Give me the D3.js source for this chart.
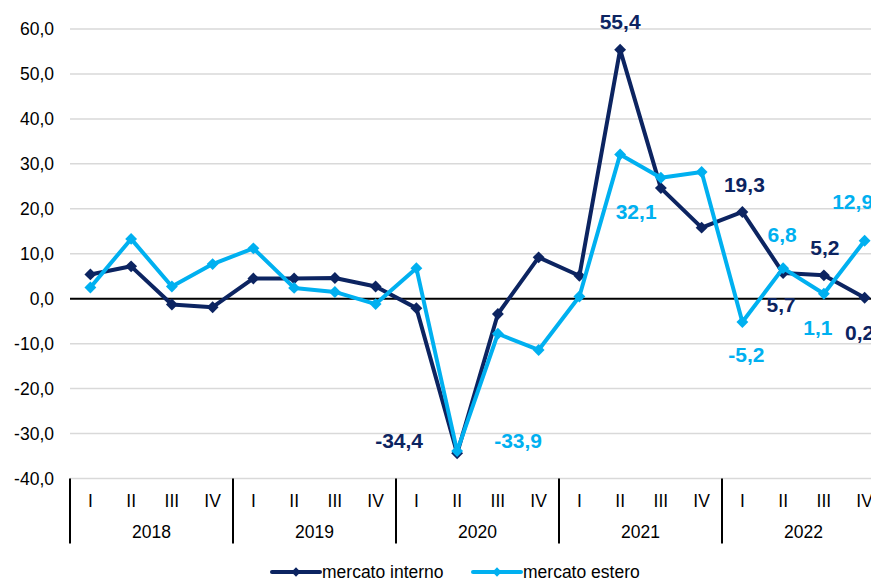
<!DOCTYPE html>
<html>
<head>
<meta charset="utf-8">
<script src="https://cdn.jsdelivr.net/npm/d3@7"></script>
<style>
  body { margin: 0; background: #fff; }
  svg { display: block; font-family: "Liberation Sans", Arial, sans-serif; }
</style>
</head>
<body>
<script>
// Data
let years = ['2018', '2019', '2020', '2021', '2022'];
let quarters = ['I', 'II', 'III', 'IV'];
let interno = [5.4, 7.2, -1.3, -1.9, 4.5, 4.5, 4.6, 2.7, -2.1, -34.4, -3.4, 9.2, 5.1, 55.4, 24.6, 15.8, 19.3, 5.7, 5.2, 0.2];
let estero = [2.5, 13.3, 2.7, 7.7, 11.2, 2.4, 1.5, -1.2, 6.8, -33.9, -7.8, -11.4, 0.5, 32.1, 26.9, 28.2, -5.2, 6.8, 1.1, 12.9];
let yTicks = [-40, -30, -20, -10, 0, 10, 20, 30, 40, 50, 60];

let dark = '#0c2461';
let light = '#00b0f0';

// label offsets from their point (pixels)
let labels = [
    {series: 'interno', i: 13, dx: 0, dy: -21},
    {series: 'interno', i: 9, dx: -58, dy: -5},
    {series: 'estero', i: 9, dx: 61, dy: -3},
    {series: 'estero', i: 13, dx: 16, dy: 65},
    {series: 'interno', i: 16, dx: 2, dy: -20},
    {series: 'estero', i: 17, dx: -1, dy: -26},
    {series: 'interno', i: 18, dx: 1, dy: -20},
    {series: 'estero', i: 19, dx: -12, dy: -32},
    {series: 'interno', i: 17, dx: -2, dy: 39},
    {series: 'estero', i: 18, dx: -6, dy: 41},
    {series: 'interno', i: 19, dx: -5, dy: 42},
    {series: 'estero', i: 16, dx: 4, dy: 40}
];

let categories = [];
years.forEach(y => quarters.forEach(q => categories.push(y + '-' + q)));

let seriesList = [
    {key: 'interno', name: 'mercato interno', values: interno, color: dark},
    {key: 'estero', name: 'mercato estero', values: estero, color: light}
];

let W = 871, H = 581;
let margin = {left: 70, right: 885, top: 29, bottom: 478.5};

let itLocale = d3.formatLocale({decimal: ',', thousands: '.', grouping: [3], currency: ['', '€'], minus: '-'});
let fmt = itLocale.format('.1f');

let svg = d3.select('body').append('svg')
    .attr('width', W)
    .attr('height', H);

let x = d3.scaleBand().domain(categories).range([margin.left, margin.right]);
let xYear = d3.scaleBand().domain(years).range([margin.left, margin.right]);
let y = d3.scaleLinear().domain([-40, 60]).range([margin.bottom, margin.top]);

// gridlines
svg.append('g')
    .selectAll('line')
    .data(yTicks.filter(d => d !== 0))
    .enter().append('line')
    .attr('x1', margin.left)
    .attr('x2', margin.right)
    .attr('y1', d => y(d))
    .attr('y2', d => y(d))
    .style('stroke', '#d9d9d9')
    .style('stroke-width', 1.5);

// y axis labels
let yAxis = svg.append('g')
    .attr('transform', `translate(${margin.left - 16},0)`)
    .call(d3.axisLeft(y).tickValues(yTicks).tickSize(0).tickPadding(0).tickFormat(fmt));
yAxis.select('.domain').remove();
yAxis.selectAll('text')
    .style('font-size', '17.5px')
    .style('font-family', '"Liberation Sans", Arial, sans-serif')
    .style('fill', '#000');

// zero line
svg.append('line')
    .attr('x1', margin.left)
    .attr('x2', margin.right)
    .attr('y1', y(0))
    .attr('y2', y(0))
    .style('stroke', '#000')
    .style('stroke-width', 2);

// x axis: quarters
let xAxis = svg.append('g')
    .attr('transform', `translate(0,${margin.bottom})`)
    .call(d3.axisBottom(x).tickSize(0).tickPadding(16).tickFormat(d => d.split('-')[1]));
xAxis.select('.domain').remove();
xAxis.selectAll('text')
    .style('font-size', '17.5px')
    .style('font-family', '"Liberation Sans", Arial, sans-serif')
    .style('fill', '#000');

// x axis: years
let yearAxis = svg.append('g')
    .attr('transform', `translate(0,${margin.bottom + 32})`)
    .call(d3.axisBottom(xYear).tickSize(0).tickPadding(15));
yearAxis.select('.domain').remove();
yearAxis.selectAll('text')
    .style('font-size', '17.5px')
    .style('font-family', '"Liberation Sans", Arial, sans-serif')
    .style('fill', '#000');

// year separators
svg.append('g')
    .selectAll('line')
    .data(years.map(d => xYear(d)).concat([margin.right]))
    .enter().append('line')
    .attr('x1', d => d)
    .attr('x2', d => d)
    .attr('y1', margin.bottom)
    .attr('y2', margin.bottom + 65)
    .style('stroke', '#000')
    .style('stroke-width', 2);

let cx = i => x(categories[i]) + x.bandwidth() / 2;
let diamond = d3.symbol().type(d3.symbolDiamond2).size(90);

// series
seriesList.forEach(s => {
    let line = d3.line()
        .x((d, i) => cx(i))
        .y(d => y(d));

    svg.append('path')
        .datum(s.values)
        .attr('d', line)
        .style('fill', 'none')
        .style('stroke', s.color)
        .style('stroke-width', 4)
        .style('stroke-linejoin', 'round');

    svg.append('g')
        .selectAll('path')
        .data(s.values)
        .enter().append('path')
        .attr('d', diamond)
        .attr('transform', (d, i) => `translate(${cx(i)},${y(d)})`)
        .style('fill', s.color);
});

// data labels
labels.forEach(l => {
    let s = seriesList.filter(a => a.key === l.series)[0];
    let v = s.values[l.i];
    svg.append('text')
        .attr('x', cx(l.i) + l.dx)
        .attr('y', y(v) + l.dy)
        .attr('text-anchor', 'middle')
        .style('font-size', '21px')
        .style('font-weight', 'bold')
        .style('fill', s.color)
        .text(fmt(v));
});

// legend
let legendItems = [
    {s: seriesList[0], x0: 272},
    {s: seriesList[1], x0: 473}
];
let ly = 572;
legendItems.forEach(item => {
    let g = svg.append('g');
    g.append('line')
        .attr('x1', item.x0)
        .attr('x2', item.x0 + 48)
        .attr('y1', ly)
        .attr('y2', ly)
        .style('stroke', item.s.color)
        .style('stroke-width', 4)
        .style('stroke-linecap', 'round');
    g.append('path')
        .attr('d', d3.symbol().type(d3.symbolDiamond2).size(55))
        .attr('transform', `translate(${item.x0 + 24},${ly})`)
        .style('fill', item.s.color);
    g.append('text')
        .attr('x', item.x0 + 50)
        .attr('y', ly + 6)
        .style('font-size', '17.5px')
        .style('fill', '#000')
        .text(item.s.name);
});
</script>
</body>
</html>
